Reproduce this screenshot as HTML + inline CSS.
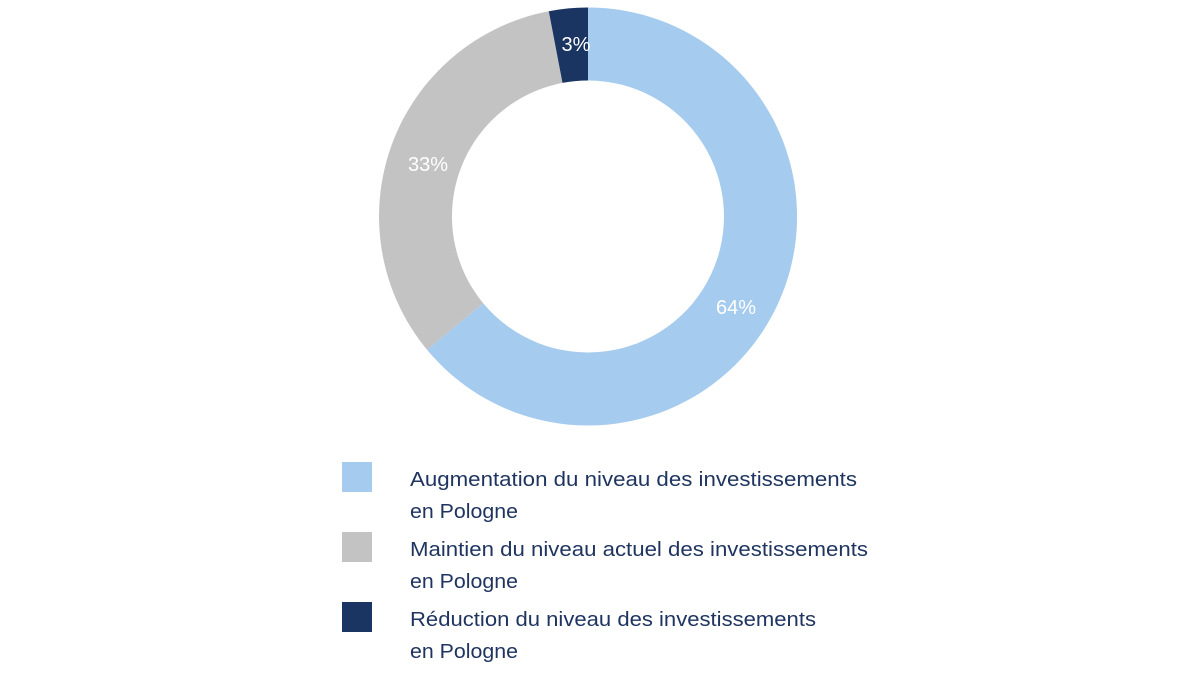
<!DOCTYPE html>
<html><head><meta charset="utf-8"><style>
html,body{margin:0;padding:0;background:#fff;width:1200px;height:675px;overflow:hidden}
</style></head><body>
<svg width="1200" height="675" viewBox="0 0 1200 675" xmlns="http://www.w3.org/2000/svg">
<path d="M588,7.5 A209,209 0 1 1 427.0,349.7 L483.2,303.2 A136,136 0 1 0 588,80.5 Z" fill="#a5cbee"/>
<path d="M427.0,349.7 A209,209 0 0 1 548.8,11.2 L562.5,82.9 A136,136 0 0 0 483.2,303.2 Z" fill="#c3c3c3"/>
<path d="M548.8,11.2 A209,209 0 0 1 588,7.5 L588,80.5 A136,136 0 0 0 562.5,82.9 Z" fill="#1b3563"/>
<g font-family="Liberation Sans, sans-serif" font-size="20" fill="#fff" text-anchor="middle">
<text x="576" y="51">3%</text>
<text x="428" y="171">33%</text>
<text x="736" y="314">64%</text>
</g>
<rect x="342" y="462" width="30" height="30" fill="#a5cbee"/>
<rect x="342" y="532" width="30" height="30" fill="#c3c3c3"/>
<rect x="342" y="602" width="30" height="30" fill="#1b3563"/>
<g font-family="Liberation Sans, sans-serif" font-size="20" fill="#1f3560">
<text x="410" y="486" textLength="447" lengthAdjust="spacingAndGlyphs">Augmentation du niveau des investissements</text>
<text x="410" y="518" textLength="108" lengthAdjust="spacingAndGlyphs">en Pologne</text>
<text x="410" y="556" textLength="458" lengthAdjust="spacingAndGlyphs">Maintien du niveau actuel des investissements</text>
<text x="410" y="588" textLength="108" lengthAdjust="spacingAndGlyphs">en Pologne</text>
<text x="410" y="626" textLength="406" lengthAdjust="spacingAndGlyphs">Réduction du niveau des investissements</text>
<text x="410" y="658" textLength="108" lengthAdjust="spacingAndGlyphs">en Pologne</text>
</g>
</svg>
</body></html>
